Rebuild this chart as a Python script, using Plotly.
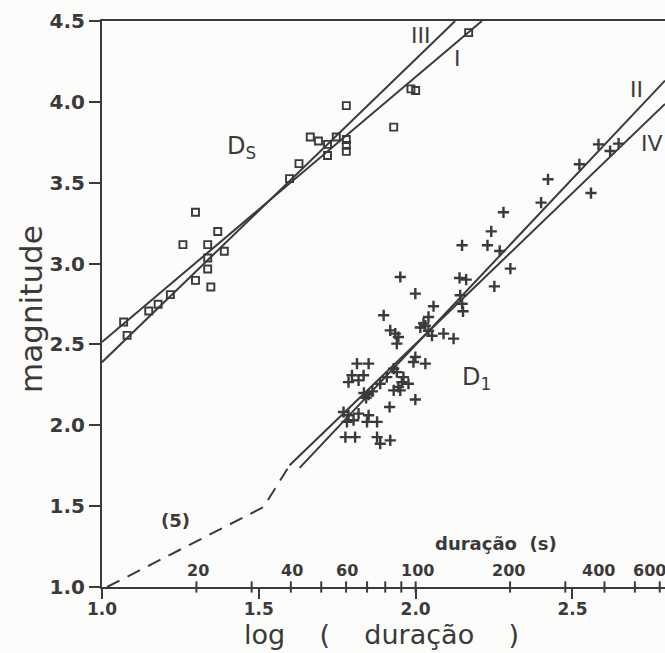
import numpy as np
import plotly.graph_objects as go

# ---------------- data ----------------
# D_S events (squares): log(duration), magnitude
ds_x = [1.069, 1.080, 1.149, 1.179, 1.218, 1.298, 1.347, 1.258, 1.337, 1.337, 1.337, 1.390,
        1.369, 1.298, 1.598, 1.628, 1.664, 1.690, 1.719, 1.719, 1.747, 1.779, 1.779, 1.779,
        1.779, 1.930, 1.985, 2.000, 2.169]
ds_y = [2.639, 2.556, 2.707, 2.748, 2.808, 2.896, 2.855, 3.117, 3.117, 3.034, 2.966, 3.076,
        3.198, 3.317, 3.525, 3.618, 3.783, 3.758, 3.737, 3.668, 3.783, 3.977, 3.767, 3.731,
        3.694, 3.844, 4.080, 4.070, 4.428]

# D_1 events (crosses)
d1_x = [2.583, 2.620, 2.647, 2.522, 2.559, 2.422, 2.400, 2.280, 2.241, 2.229, 2.148, 2.268,
        2.302, 2.251, 2.140, 2.161, 2.142, 2.148, 2.151, 2.057, 1.999, 1.951, 1.898,
        2.041, 2.031, 2.015, 2.041, 2.052, 2.025, 2.089, 2.121,
        1.919, 1.935, 1.945, 1.940,
        1.999, 1.993, 2.031,
        1.813, 1.850, 1.797, 1.834, 1.786, 1.818,
        1.930, 1.940, 1.908, 1.887,
        1.961, 1.956, 1.977, 1.945, 1.930, 1.951,
        1.835, 1.850, 1.862, 1.842,
        1.999, 1.917,
        1.770, 1.786, 1.818, 1.850, 1.802, 1.845, 1.877, 1.781,
        1.776, 1.807, 1.877, 1.887, 1.919]
d1_y = [3.737, 3.696, 3.742, 3.614, 3.436, 3.521, 3.377, 3.317, 3.199, 3.113, 3.113, 3.078,
        2.969, 2.859, 2.911, 2.901, 2.804, 2.752, 2.705, 2.736, 2.814, 2.917, 2.680,
        2.670, 2.616, 2.605, 2.585, 2.554, 2.630, 2.567, 2.536,
        2.587, 2.567, 2.546, 2.505,
        2.422, 2.391, 2.381,
        2.381, 2.381, 2.309, 2.309, 2.267, 2.278,
        2.350, 2.329, 2.298, 2.257,
        2.298, 2.267, 2.257, 2.237, 2.216, 2.216,
        2.200, 2.190, 2.210, 2.170,
        2.159, 2.113,
        2.082, 2.062, 2.072, 2.062, 2.031, 2.021, 2.021, 2.021,
        1.927, 1.927, 1.927, 1.886, 1.907]

# fitted relations: magnitude = a + b * log(duration), with x extent
fit_names = ["I", "III", "II", "IV"]
fit_a = [0.876, 0.516, -1.615, -1.231]
fit_b = [1.639, 1.874, 2.056, 1.867]
fit_xmin = [1.000, 1.000, 1.630, 1.598]

# relation (5), dashed
curve5_x = [1.016, 1.515, 1.598]
curve5_y = [1.000, 1.494, 1.752]

# duration (s) secondary scale
sec_ticks = [20, 30, 40, 50, 60, 70, 80, 90, 100, 200, 300, 400, 500, 600]
sec_labels = [20, 40, 60, 100, 200, 400, 600]
sec_label_shift = [2, 1, 1, 2, -2, -6, -10]

x_ticks = [1.0, 1.5, 2.0, 2.5]
y_ticks = [1.0, 1.5, 2.0, 2.5, 3.0, 3.5, 4.0, 4.5]

# ---------------- style ----------------
INK = "#3a3a3a"
BG = "#fcfcfa"
FONT = "DejaVu Sans"
XMIN, XMAX, YMIN, YMAX = 1.0, 2.795, 1.0, 4.5
NB = "\u00a0"

fig = go.Figure()

for a, b, xm in zip(fit_a, fit_b, fit_xmin):
    xe = min(XMAX, (YMAX - a) / b)
    xs = np.array([xm, xe])
    fig.add_trace(go.Scatter(x=xs, y=a + b * xs, mode="lines",
                             line=dict(color=INK, width=2), hoverinfo="skip"))

fig.add_trace(go.Scatter(x=curve5_x, y=curve5_y, mode="lines",
                         line=dict(color=INK, width=2, dash="14px,9px")))

fig.add_trace(go.Scatter(x=ds_x, y=ds_y, mode="markers",
                         marker=dict(symbol="square-open", size=7, color=INK,
                                     line=dict(width=1.9, color=INK))))
fig.add_trace(go.Scatter(x=d1_x, y=d1_y, mode="markers",
                         marker=dict(symbol="cross-thin-open", size=8, color=INK,
                                     line=dict(width=2.4, color=INK))))

# secondary duration ticks on the x axis
fig.add_trace(go.Scatter(x=np.log10(sec_ticks), y=[YMIN] * len(sec_ticks), mode="markers",
                         cliponaxis=False,
                         marker=dict(symbol="line-ns-open", size=8, color=INK,
                                     line=dict(width=2, color=INK))))
for s, sh in zip(sec_labels, sec_label_shift):
    fig.add_annotation(x=np.log10(s), y=YMIN, text=str(s), showarrow=False,
                       xanchor="center", yanchor="bottom", yshift=5, xshift=sh,
                       font=dict(family=FONT, size=16, color=INK, weight="bold"))

fig.add_annotation(x=2.256, y=1.268, text=f"duração{NB}{NB}(s)", showarrow=False,
                   xanchor="center", yanchor="middle",
                   font=dict(family=FONT, size=18, color=INK, weight="bold"))
fig.add_annotation(x=1.234, y=1.412, text="(5)", showarrow=False,
                   xanchor="center", yanchor="middle",
                   font=dict(family=FONT, size=18, color=INK, weight="bold"))

label_pos = {"III": (2.015, 4.412), "I": (2.134, 4.267), "II": (2.705, 4.076), "IV": (2.753, 3.742)}
for name, (lx, ly) in label_pos.items():
    fig.add_annotation(x=lx, y=ly, text=name, showarrow=False,
                       xanchor="center", yanchor="middle",
                       font=dict(family=FONT, size=22, color=INK))

fig.add_annotation(x=1.446, y=3.72, text="D<sub>S</sub>", showarrow=False,
                   xanchor="center", yanchor="middle",
                   font=dict(family=FONT, size=24, color=INK))
fig.add_annotation(x=2.195, y=2.289, text="D<sub>1</sub>", showarrow=False,
                   xanchor="center", yanchor="middle",
                   font=dict(family=FONT, size=24, color=INK))

# axis titles
fig.add_annotation(xref="paper", x=-0.126, y=2.72, text="magnitude", textangle=-90,
                   xanchor="center", yanchor="middle",
                   showarrow=False, font=dict(family=FONT, size=31, color=INK))
fig.add_annotation(x=1.89, yref="paper", y=-0.0848,
                   text=f"log{NB*4}({NB*4}duração{NB*4})",
                   xanchor="center", yanchor="middle",
                   showarrow=False, font=dict(family=FONT, size=27, color=INK))

fig.update_layout(
    width=665, height=653,
    margin=dict(l=102, r=0, t=21, b=66),
    paper_bgcolor=BG, plot_bgcolor=BG,
    showlegend=False,
    xaxis=dict(range=[XMIN, XMAX], showgrid=False, zeroline=False,
               showline=True, linewidth=2, linecolor=INK, mirror=True,
               ticks="outside", ticklen=10, tickwidth=2, tickcolor=INK,
               ticklabelstandoff=-4,
               tickvals=x_ticks, ticktext=[f"{v:.1f}" for v in x_ticks],
               tickfont=dict(family=FONT, size=17, color=INK, weight="bold")),
    yaxis=dict(range=[YMIN, YMAX], showgrid=False, zeroline=False,
               showline=True, linewidth=2, linecolor=INK,
               ticks="outside", ticklen=11, tickwidth=2, tickcolor=INK,
               tickvals=y_ticks, ticktext=[f"{v:.1f}" for v in y_ticks],
               tickfont=dict(family=FONT, size=20, color=INK, weight="bold")),
)

fig.write_html("out.html")
